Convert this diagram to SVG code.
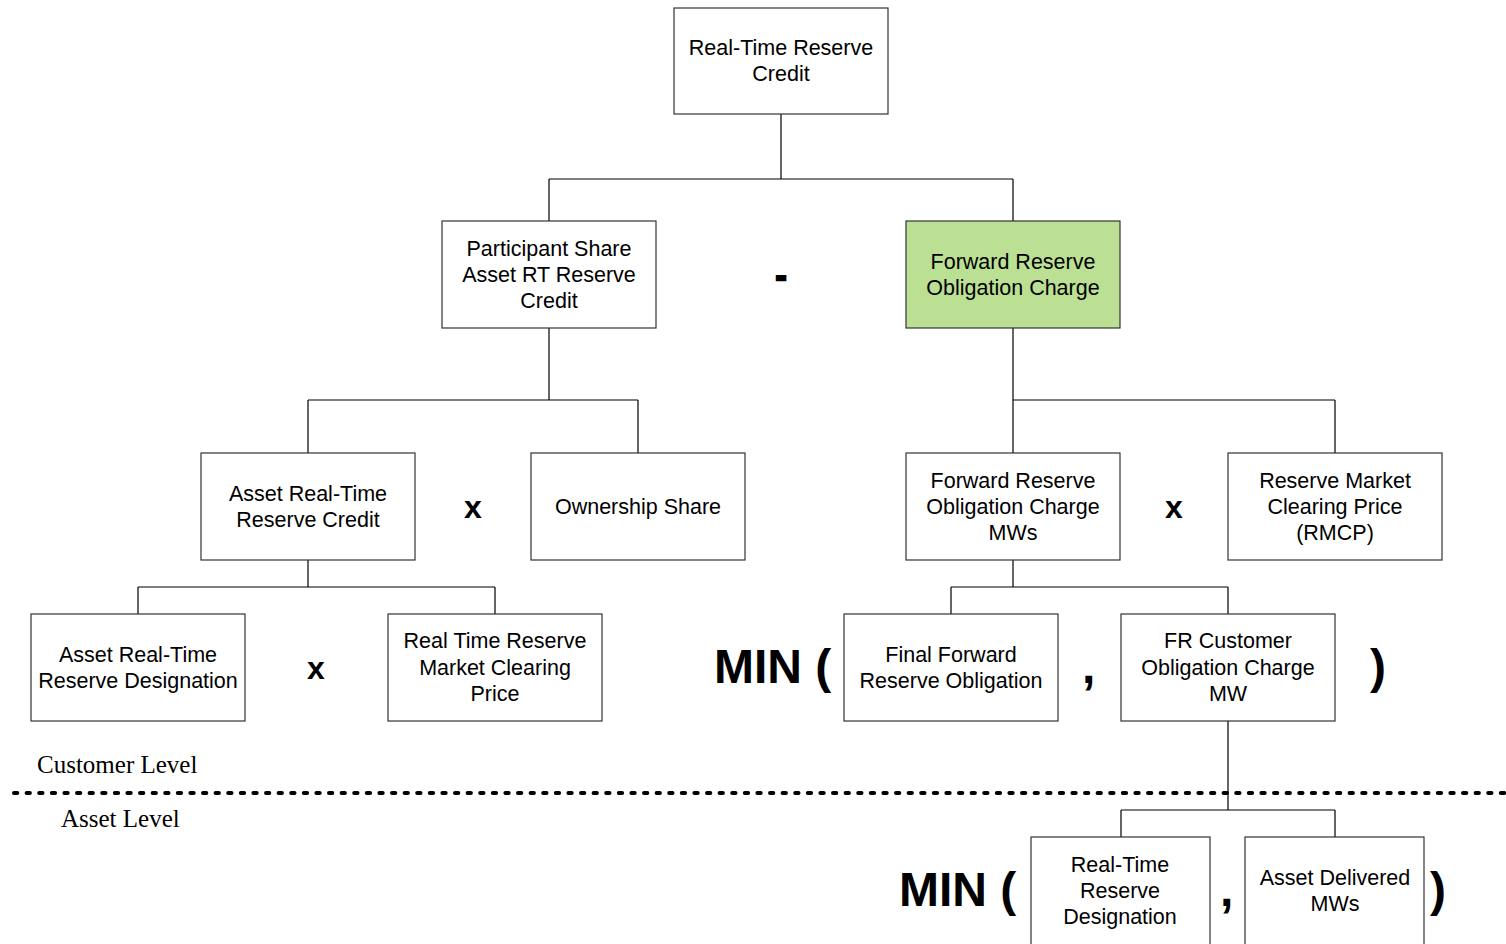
<svg xmlns="http://www.w3.org/2000/svg" width="1506" height="944" viewBox="0 0 1506 944">
  <style>
    .box { fill: #ffffff; stroke: #333333; stroke-width: 1.2; }
    .green { fill: #bbe094; }
    .lbl { font-family: "Liberation Sans", Arial, sans-serif; font-size: 21.5px; fill: #000; text-anchor: middle; }
    .op { font-family: "Liberation Sans", Arial, sans-serif; font-weight: bold; fill: #000; }
    .big { font-size: 48px; }
    .mid { font-size: 32px; text-anchor: middle; }
    .lvl { font-family: "Liberation Serif", "Times New Roman", serif; font-size: 25px; fill: #000; }
    .wire { fill: none; stroke: #000; stroke-width: 1.2; }
  </style>

  <rect width="1506" height="944" fill="#ffffff"/>

  <!-- connectors -->
  <g id="connectors" class="wire">
    <path d="M781 114 V179 M549 179 H1013 M549 179 V221 M1013 179 V221"/>
    <path d="M549 328 V400 M308 400 H638 M308 400 V453 M638 400 V453"/>
    <path d="M1013 328 V400 M1013 400 H1335 M1013 400 V453 M1335 400 V453"/>
    <path d="M308 560 V587 M138 587 H495 M138 587 V614 M495 587 V614"/>
    <path d="M1013 560 V587 M951 587 H1228 M951 587 V614 M1228 587 V614"/>
    <path d="M1228 721 V810 M1121 810 H1335 M1121 810 V837 M1335 810 V837"/>
  </g>

  <!-- level separator -->
  <g id="levels">
    <line x1="14" y1="793" x2="1506" y2="793" stroke="#000" stroke-width="4" stroke-linecap="round" stroke-dasharray="3.3 9.3"/>
    <text class="lvl" x="37" y="773">Customer Level</text>
    <text class="lvl" x="61" y="827">Asset Level</text>
  </g>

  <!-- nodes -->
  <g id="rt-reserve-credit">
    <rect class="box" x="674" y="8" width="214" height="106"/>
    <text class="lbl" x="781" y="55">Real-Time Reserve</text>
    <text class="lbl" x="781" y="81">Credit</text>
  </g>

  <g id="participant-share">
    <rect class="box" x="442" y="221" width="214" height="107"/>
    <text class="lbl" x="549" y="256">Participant Share</text>
    <text class="lbl" x="549" y="282">Asset RT Reserve</text>
    <text class="lbl" x="549" y="308">Credit</text>
  </g>

  <g id="forward-obligation-charge">
    <rect class="box green" x="906" y="221" width="214" height="107"/>
    <text class="lbl" x="1013" y="269">Forward Reserve</text>
    <text class="lbl" x="1013" y="295">Obligation Charge</text>
  </g>

  <g id="asset-rt-credit">
    <rect class="box" x="201" y="453" width="214" height="107"/>
    <text class="lbl" x="308" y="501">Asset Real-Time</text>
    <text class="lbl" x="308" y="527">Reserve Credit</text>
  </g>

  <g id="ownership-share">
    <rect class="box" x="531" y="453" width="214" height="107"/>
    <text class="lbl" x="638" y="514">Ownership Share</text>
  </g>

  <g id="fro-charge-mws">
    <rect class="box" x="906" y="453" width="214" height="107"/>
    <text class="lbl" x="1013" y="488">Forward Reserve</text>
    <text class="lbl" x="1013" y="514">Obligation Charge</text>
    <text class="lbl" x="1013" y="540">MWs</text>
  </g>

  <g id="rmcp">
    <rect class="box" x="1228" y="453" width="214" height="107"/>
    <text class="lbl" x="1335" y="488">Reserve Market</text>
    <text class="lbl" x="1335" y="514">Clearing Price</text>
    <text class="lbl" x="1335" y="540">(RMCP)</text>
  </g>

  <g id="asset-rt-designation">
    <rect class="box" x="31" y="614" width="214" height="107"/>
    <text class="lbl" x="138" y="662">Asset Real-Time</text>
    <text class="lbl" x="138" y="688">Reserve Designation</text>
  </g>

  <g id="rt-clearing-price">
    <rect class="box" x="388" y="614" width="214" height="107"/>
    <text class="lbl" x="495" y="648">Real Time Reserve</text>
    <text class="lbl" x="495" y="675">Market Clearing</text>
    <text class="lbl" x="495" y="701">Price</text>
  </g>

  <g id="final-forward-obligation">
    <rect class="box" x="844" y="614" width="214" height="107"/>
    <text class="lbl" x="951" y="662">Final Forward</text>
    <text class="lbl" x="951" y="688">Reserve Obligation</text>
  </g>

  <g id="fr-customer-charge-mw">
    <rect class="box" x="1121" y="614" width="214" height="107"/>
    <text class="lbl" x="1228" y="648">FR Customer</text>
    <text class="lbl" x="1228" y="675">Obligation Charge</text>
    <text class="lbl" x="1228" y="701">MW</text>
  </g>

  <g id="rt-reserve-designation">
    <rect class="box" x="1031" y="837" width="179" height="120"/>
    <text class="lbl" x="1120" y="872">Real-Time</text>
    <text class="lbl" x="1120" y="898">Reserve</text>
    <text class="lbl" x="1120" y="924">Designation</text>
  </g>

  <g id="asset-delivered-mws">
    <rect class="box" x="1245" y="837" width="179" height="120"/>
    <text class="lbl" x="1335" y="885">Asset Delivered</text>
    <text class="lbl" x="1335" y="911">MWs</text>
  </g>

  <!-- operators -->
  <g id="operators" class="op">
    <text class="mid" x="781" y="286" font-size="46" stroke="#000" stroke-width="2.4">-</text>
    <text class="mid" x="473" y="518">x</text>
    <text class="mid" x="1174" y="518">x</text>
    <text class="mid" x="316" y="679">x</text>
    <text class="big" x="714" y="683">MIN (</text>
    <text class="big" x="1082" y="683">,</text>
    <text class="big" x="1370" y="683">)</text>
    <text class="big" x="899" y="906">MIN (</text>
    <text class="big" x="1220" y="906">,</text>
    <text class="big" x="1430" y="906">)</text>
  </g>
</svg>
